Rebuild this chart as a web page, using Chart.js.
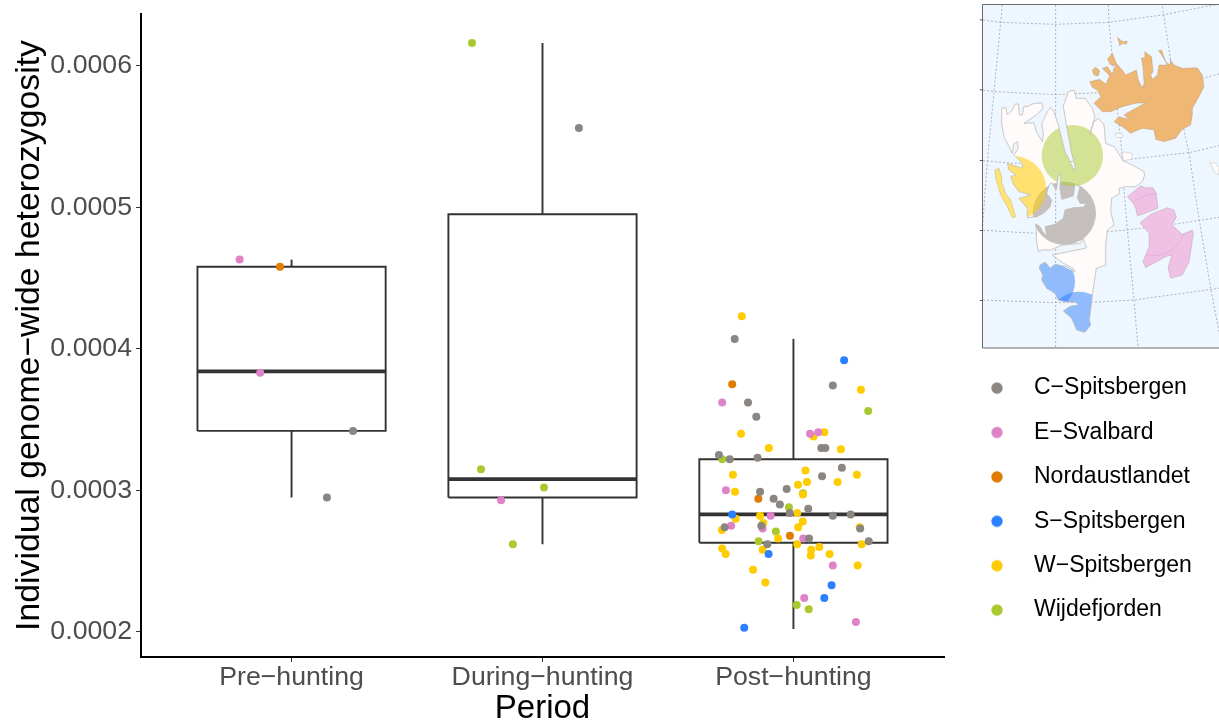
<!DOCTYPE html>
<html><head><meta charset="utf-8">
<style>html,body{margin:0;padding:0;background:#fff}canvas{display:block}</style>
<script src="https://cdn.jsdelivr.net/npm/chart.js@4"></script>
</head><body><canvas id="c" width="1219" height="723"></canvas>
<script>
const periodNames = ["Pre\u2212hunting","During\u2212hunting","Post\u2212hunting"];
const periodPos = [1,2,3];
const boxQ1 = [0.000342,0.000295,0.000263];
const boxMedian = [0.000384,0.000308,0.000283];
const boxQ3 = [0.000458,0.000495,0.000322];
const whiskerLow = [0.000295,0.000262,0.000202];
const whiskerHigh = [0.000463,0.000616,0.000407];
const tickValues = [0.0002,0.0003,0.0004,0.0005,0.0006];

const regionNames = ["C\u2212Spitsbergen","E\u2212Svalbard","Nordaustlandet","S\u2212Spitsbergen","W\u2212Spitsbergen","Wijdefjorden"];
const regionColors = ["#8B8681","#DF83C9","#E07C00","#2B80FF","#FFCC00","#AAC92F"];

const cSpitsX = [1.245,1.141,2.145,2.766,2.819,2.852,3.157,2.703,2.746,2.857,3.111,3.127,3.193,3.114,2.867,2.973,2.921,2.946,3.059,2.985,3.157,3.228,2.872,2.726,3.266,3.062,2.896,3.300];
const cSpitsY = [0.000342,0.000295,0.000556,0.000407,0.000362,0.000352,0.000374,0.000325,0.000322,0.000323,0.000330,0.000330,0.000316,0.000310,0.000299,0.000301,0.000294,0.000290,0.000287,0.000284,0.000282,0.000283,0.000275,0.000274,0.000273,0.000266,0.000262,0.000264];
const eSvalX = [0.793,0.875,1.835,2.716,3.066,3.099,2.731,2.909,2.752,2.877,3.039,3.157,3.043,3.249];
const eSvalY = [0.000463,0.000383,0.000293,0.000362,0.000340,0.000341,0.000300,0.000282,0.000275,0.000273,0.000266,0.000247,0.000224,0.000207];
const nordX = [0.954,2.756,2.860,2.986];
const nordY = [0.000458,0.000375,0.000294,0.000268];
const sSpitsX = [3.202,2.756,2.901,3.152,3.123,2.804];
const sSpitsY = [0.000392,0.000283,0.000255,0.000233,0.000224,0.000203];
const wSpitsX = [2.794,2.791,2.902,3.123,3.080,3.269,3.189,3.048,2.759,3.018,3.054,3.176,3.253,2.767,3.038,2.867,2.770,3.015,3.037,3.019,2.880,2.715,3.264,2.939,3.015,3.103,3.071,3.069,3.144,2.877,2.716,2.730,3.272,3.256,2.839,2.888];
const wSpitsY = [0.000423,0.000340,0.000330,0.000341,0.000338,0.000371,0.000329,0.000314,0.000311,0.000304,0.000306,0.000306,0.000311,0.000299,0.000297,0.000282,0.000280,0.000284,0.000278,0.000274,0.000277,0.000272,0.000274,0.000266,0.000262,0.000260,0.000258,0.000254,0.000255,0.000258,0.000259,0.000255,0.000262,0.000247,0.000244,0.000235];
const wijdeX = [1.719,1.755,2.006,1.882,3.298,2.716,2.982,3.038,2.930,2.861,3.013,3.061];
const wijdeY = [0.000616,0.000315,0.000302,0.000262,0.000356,0.000322,0.000288,0.000298,0.000271,0.000264,0.000219,0.000216];
const regionX = [cSpitsX,eSvalX,nordX,sSpitsX,wSpitsX,wijdeX];
const regionY = [cSpitsY,eSvalY,nordY,sSpitsY,wSpitsY,wijdeY];

// inset map outlines
const mapLand = [[68,325],[80,322],[85,345],[100,330],[108,312],[118,312],[122,345],[130,345],[135,318],[145,320],[160,312],[188,308],[192,325],[172,345],[135,370],[165,368],[172,395],[190,425],[193,400],[188,372],[205,335],[215,322],[225,335],[238,375],[258,455],[270,478],[283,508],[290,505],[278,460],[262,375],[253,318],[268,275],[285,270],[292,295],[318,295],[340,325],[348,350],[332,405],[345,365],[358,355],[375,375],[380,430],[405,440],[425,470],[432,482],[460,495],[495,515],[497,525],[490,545],[470,560],[438,560],[420,565],[422,580],[398,595],[395,635],[405,675],[385,690],[380,735],[380,795],[352,805],[340,885],[338,905],[331,960],[335,975],[318,997],[293,990],[278,955],[253,933],[271,920],[283,917],[298,915],[291,907],[258,905],[238,900],[228,880],[203,865],[188,840],[191,825],[181,805],[183,795],[198,787],[208,797],[213,805],[228,793],[263,800],[288,815],[283,805],[253,790],[220,765],[318,745],[322,743],[312,715],[305,730],[250,735],[215,750],[190,750],[178,755],[172,720],[172,690],[170,672],[183,680],[198,707],[203,700],[198,680],[228,673],[253,655],[258,630],[283,623],[313,622],[323,610],[303,610],[295,593],[303,560],[288,553],[283,587],[253,597],[248,597],[243,565],[245,525],[238,525],[233,565],[231,570],[218,547],[211,553],[203,580],[218,600],[213,620],[193,640],[173,650],[145,653],[145,625],[120,595],[155,585],[120,575],[105,555],[95,530],[110,525],[90,510],[85,490],[130,505],[130,490],[105,465],[118,445],[115,425],[105,430],[100,460],[75,410],[68,370]];
const mapSouthMask = [[170,780],[225,786],[288,816],[400,816],[400,1010],[170,1010]];
const mapNord = [[332,245],[362,238],[380,252],[392,228],[370,205],[385,200],[400,222],[410,195],[395,195],[385,178],[400,160],[412,190],[430,210],[440,225],[472,210],[478,240],[490,265],[495,250],[492,200],[487,175],[498,172],[497,155],[518,170],[522,215],[515,225],[520,238],[535,225],[540,195],[565,195],[548,165],[538,152],[548,150],[560,185],[572,195],[575,180],[585,195],[610,205],[655,203],[670,225],[675,260],[660,290],[640,325],[640,345],[635,375],[610,388],[590,415],[555,425],[530,418],[525,390],[490,385],[455,400],[430,380],[405,365],[420,350],[450,358],[435,345],[445,338],[500,308],[470,310],[430,320],[395,335],[370,335],[345,310],[365,290],[355,270],[340,262]];
const mapNordIsle1 = [[340,210],[350,202],[362,212],[358,228],[345,225]];
const mapNordIsle2 = [[415,112],[422,118],[432,125],[445,123],[442,133],[430,130],[422,138],[420,125]];
const mapBarents = [[445,590],[485,557],[498,563],[522,563],[532,580],[537,625],[490,643],[475,647],[470,625],[462,610]];
const mapEdge = [[483,668],[515,643],[565,623],[585,630],[592,650],[580,675],[610,703],[640,690],[643,703],[630,785],[610,825],[575,835],[567,805],[578,765],[560,770],[500,803],[492,785],[510,740],[510,700]];
const mapForland = [[48,510],[60,505],[68,530],[68,545],[80,580],[95,600],[110,650],[100,653],[85,620],[65,585],[50,535]];
const mapWhiteIsles = [[[408,400],[430,400],[430,413],[412,412]],[[430,455],[460,460],[458,478],[432,482]],[[692,487],[710,490],[720,502],[720,525],[705,515]]];
const mapGrat = [
 [[0,58],[65,67],[230,73],[390,67],[550,45],[720,12]],
 [[0,268],[50,275],[230,284],[365,278],[670,235],[720,222]],
 [[0,480],[25,483],[100,490],[430,480],[630,458],[720,437]],
 [[0,690],[170,700],[385,695],[445,690],[590,672],[720,652]],
 [[0,900],[230,908],[340,907],[465,900],[720,865]],
 [[70,15],[65,67],[45,275],[25,483],[10,690],[0,790]],
 [[230,15],[230,1042]],
 [[388,15],[390,67],[410,278],[425,420],[430,480],[435,565],[445,690],[465,900],[477,1042]],
 [[550,20],[575,180],[615,390],[630,458],[640,525],[660,655],[695,865],[720,995]]
];
const mapCircles = {green:[280,467,92],yellow:[105,565,96],gray:[256,640,95],blueA:[200,845,88],blueB:[300,965,90],pink:[525,675,92]};

const mapPlugin = {
  id:'inset',
  afterDraw(chart){
    const ctx = chart.ctx;
    const X = x=>979+x/3, Y = y=>y/3;
    const poly = pts=>{ctx.beginPath();pts.forEach((p,i)=>i?ctx.lineTo(X(p[0]),Y(p[1])):ctx.moveTo(X(p[0]),Y(p[1])));ctx.closePath();};
    const circ = c=>{ctx.beginPath();ctx.arc(X(c[0]),Y(c[1]),c[2]/3,0,Math.PI*2);};
    const left=982.5, top=4.5, right=1219, bottom=348;
    ctx.save();
    ctx.beginPath();ctx.rect(left,top,right-left,bottom-top);ctx.clip();
    ctx.fillStyle='#EEF7FF';ctx.fillRect(left,top,right-left,bottom-top);
    ctx.strokeStyle='#a0a0a0';ctx.lineWidth=0.8;ctx.setLineDash([2,2]);
    mapGrat.forEach(l=>{ctx.beginPath();l.forEach((p,i)=>i?ctx.lineTo(X(p[0]),Y(p[1])):ctx.moveTo(X(p[0]),Y(p[1])));ctx.stroke();});
    ctx.setLineDash([]);
    const edge='#c8c4c2';
    ctx.lineWidth=0.6;
    mapWhiteIsles.concat([mapLand]).forEach(p=>{poly(p);ctx.fillStyle='#FFFBFA';ctx.fill();ctx.strokeStyle=edge;ctx.stroke();});
    // regional circles clipped to the land
    ctx.save();poly(mapLand);ctx.clip();
    [[mapCircles.gray,regionColors[0],0.5],[mapCircles.green,regionColors[5],0.5],[mapCircles.yellow,regionColors[4],0.55]].forEach(e=>{
      circ(e[0]);ctx.globalAlpha=e[2];ctx.fillStyle=e[1];ctx.fill();
    });
    ctx.globalAlpha=1;
    poly(mapSouthMask);ctx.clip();
    [mapCircles.blueA,mapCircles.blueB].forEach(c=>{circ(c);ctx.globalAlpha=0.52;ctx.fillStyle=regionColors[3];ctx.fill();});
    ctx.globalAlpha=1;ctx.restore();
    poly(mapLand);ctx.strokeStyle=edge;ctx.stroke();
    // islands wholly assigned to a region
    const isle=(p,col,a)=>{poly(p);ctx.fillStyle='#fff';ctx.fill();ctx.globalAlpha=a;ctx.fillStyle=col;ctx.fill();ctx.globalAlpha=1;ctx.strokeStyle='rgba(120,110,110,.4)';ctx.stroke();};
    [mapNord,mapNordIsle1,mapNordIsle2].forEach(p=>isle(p,regionColors[2],0.55));
    [mapBarents,mapEdge].forEach(p=>isle(p,regionColors[1],0.5));
    isle(mapForland,regionColors[4],0.55);
    // faint overlap arc on the eastern islands
    ctx.save();ctx.beginPath();
    [mapBarents,mapEdge].forEach(p=>{p.forEach((q,i)=>i?ctx.lineTo(X(q[0]),Y(q[1])):ctx.moveTo(X(q[0]),Y(q[1])));ctx.closePath();});
    ctx.clip();circ(mapCircles.pink);ctx.strokeStyle=regionColors[1];ctx.globalAlpha=0.3;ctx.lineWidth=1;ctx.stroke();ctx.restore();
    ctx.restore();
    // frame
    ctx.save();
    ctx.strokeStyle='#6b6b6b';ctx.lineWidth=1;
    ctx.beginPath();ctx.moveTo(right,top);ctx.lineTo(left,top);ctx.lineTo(left,bottom);ctx.lineTo(right,bottom);ctx.stroke();
    ctx.strokeStyle='#555';ctx.beginPath();
    [58,268,480,690,900].forEach(y=>{ctx.moveTo(979.8,Y(y)+.5);ctx.lineTo(982,Y(y)+.5);});
    ctx.stroke();
    ctx.restore();
  }
};
const legendPlace = {
  id:'legendPlace',
  afterLayout(chart){
    const l = chart.legend;
    l.left = 950.1; l.top = 355.2; l.right = 1219; l.bottom = 723;
  }
};

function dotImage(col){
  const d=document.createElement('canvas');d.width=14;d.height=14;
  const g=d.getContext('2d');g.fillStyle=col;g.beginPath();g.arc(7,7,5.7,0,Math.PI*2);g.fill();return d;
}
const lineStyle = {showLine:true,fill:false,pointRadius:0,pointHoverRadius:0,borderColor:'#333333',backgroundColor:'#333333',borderCapStyle:'butt'};
const datasets = [];
regionNames.forEach((n,i)=>{
  datasets.push({label:n,data:regionX[i].map((x,j)=>({x,y:regionY[i][j]})),pointRadius:4,pointBorderWidth:0,pointBackgroundColor:regionColors[i],backgroundColor:regionColors[i],showLine:false});
});
periodPos.forEach((c,i)=>{
  const hw=0.375;
  datasets.push({...lineStyle,label:'median',borderWidth:3.8,data:[{x:c-hw,y:boxMedian[i]},{x:c+hw,y:boxMedian[i]}]});
  datasets.push({...lineStyle,label:'box',borderWidth:1.9,borderJoinStyle:'miter',data:[{x:c-hw,y:boxQ1[i]},{x:c+hw,y:boxQ1[i]},{x:c+hw,y:boxQ3[i]},{x:c-hw,y:boxQ3[i]},{x:c-hw,y:boxQ1[i]}]});
  datasets.push({...lineStyle,label:'upper',borderWidth:1.9,data:[{x:c,y:boxQ3[i]},{x:c,y:whiskerHigh[i]}]});
  datasets.push({...lineStyle,label:'lower',borderWidth:1.9,data:[{x:c,y:boxQ1[i]},{x:c,y:whiskerLow[i]}]});
});
new Chart(document.getElementById('c'),{
  type:'scatter',
  data:{datasets},
  plugins:[legendPlace,mapPlugin],
  options:{
    responsive:false,animation:false,devicePixelRatio:1,
    layout:{padding:{left:0,top:14,right:275,bottom:0}},
    plugins:{
      tooltip:{enabled:false},
      legend:{
        position:'chartArea',align:'start',
        labels:{
          usePointStyle:true,pointStyleWidth:51,padding:21.4,color:'#000',
          font:{family:'"Liberation Sans"',size:23},
          generateLabels:()=>regionNames.map((n,i)=>({text:n,datasetIndex:i,pointStyle:dotImage(regionColors[i]),fillStyle:regionColors[i],strokeStyle:regionColors[i],lineWidth:0,fontColor:'#000'}))
        }
      }
    },
    scales:{
      x:{
        type:'linear',min:0.4,max:3.6,
        afterFit:s=>{s.height=66;s.paddingLeft=0;s.paddingRight=0;},
        afterBuildTicks:s=>{s.ticks=periodPos.map(v=>({value:v}));},
        border:{display:true,color:'#000',width:2},
        grid:{display:true,drawOnChartArea:false,drawTicks:true,tickLength:5,tickColor:'#333',tickWidth:1},
        ticks:{color:'#4D4D4D',padding:0,autoSkip:false,maxRotation:0,font:{family:'"Liberation Sans"',size:26.7},callback:v=>periodNames[v-1]},
        title:{display:true,text:'Period',color:'#000',font:{family:'"Liberation Sans"',size:33},padding:{top:0,bottom:-6}}
      },
      y:{
        type:'linear',min:0.0001823,max:0.0006365,
        afterFit:s=>{s.width=141;s.paddingTop=0;s.paddingBottom=0;},
        afterBuildTicks:s=>{s.ticks=tickValues.map(v=>({value:v}));},
        border:{display:true,color:'#000',width:2},
        grid:{display:true,drawOnChartArea:false,drawTicks:true,tickLength:5,tickColor:'#333',tickWidth:1},
        ticks:{color:'#4D4D4D',padding:4,autoSkip:false,font:{family:'"Liberation Sans"',size:26.7},callback:v=>v.toFixed(4)},
        title:{display:true,text:'Individual genome\u2212wide heterozygosity',color:'#000',font:{family:'"Liberation Sans"',size:33.8},padding:{top:9,bottom:0}}
      }
    }
  }
});
</script></body></html>
